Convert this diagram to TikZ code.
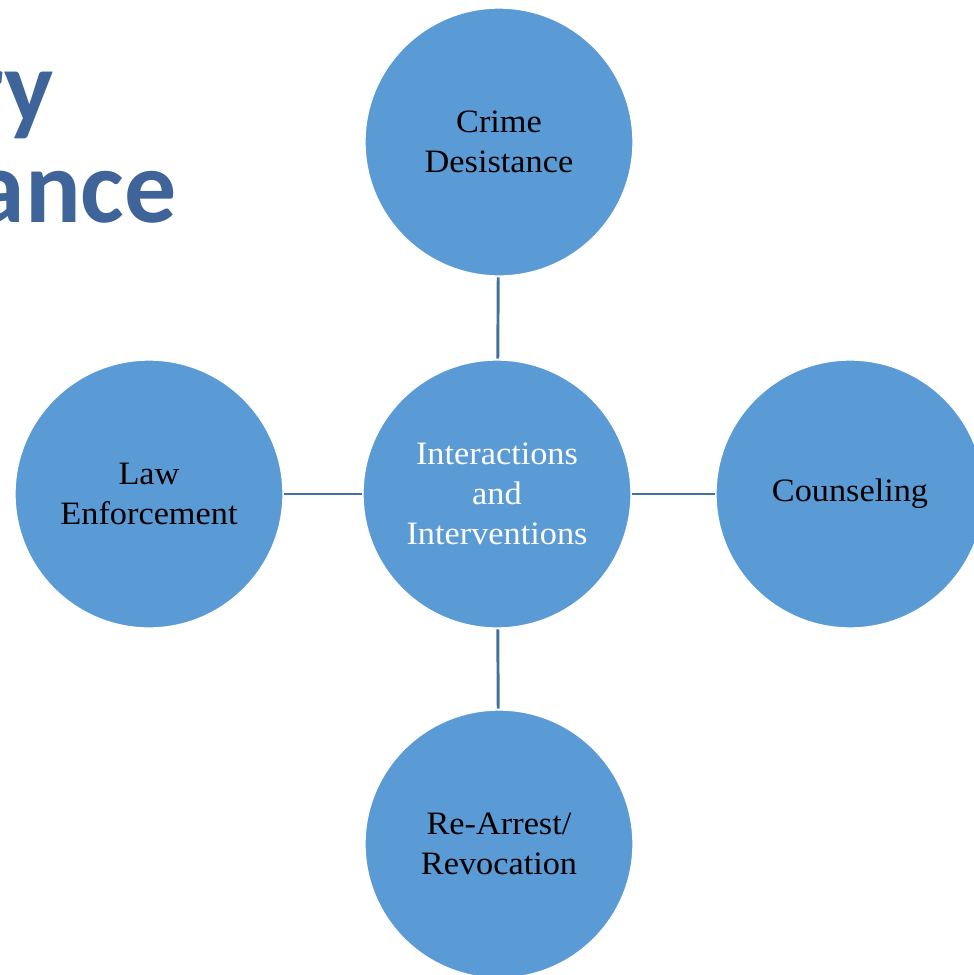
\documentclass[tikz,border=0pt]{standalone}
\usepackage{fontspec}
\setmainfont[FakeStretch=1.05]{Liberation Serif}
\newfontfamily\titlefont{Carlito}
\definecolor{bubble}{HTML}{5B9BD5}
\definecolor{linkblue}{HTML}{41719C}
\definecolor{titleblue}{HTML}{3F6499}
\begin{document}
\begin{tikzpicture}[x=0.75pt,y=-0.75pt,
  bubble/.style={circle,fill=bubble,draw=white,line width=1pt,inner sep=0pt,
    minimum size=201pt,align=center,font=\fontsize{24.5}{30}\selectfont},
  link/.style={draw=linkblue,line width=2.2pt,shorten <=0.5pt,shorten >=0.5pt},
  headline/.style={font=\titlefont\bfseries\fontsize{78}{94}\selectfont,text=titleblue,inner sep=0pt,anchor=base east}]
\useasboundingbox (0,0) rectangle (974,975);
\clip (0,0) rectangle (974,975);
% heading fragments
\node[headline] (h1) at (54,122) {ry};
\node[headline] (h2) at (177,222) {ance};
% bubbles
\node[bubble,text=white] (mid) at (497,494) {Interactions\\and\\Interventions};
\node[bubble] (top) at (499,142) {Crime\\Desistance};
\node[bubble] (left) at (149,494) {Law\\Enforcement};
\node[bubble] (right) at (850,494) {\raisebox{-1.5pt}{Counseling}};
\node[bubble] (bottom) at (499,844) {Re-Arrest/\\Revocation};
% connectors
\draw[link] (top) -- (mid);
\draw[link] (left) -- (mid);
\draw[link] (mid) -- (right);
\draw[link] (mid) -- (bottom);
\end{tikzpicture}
\end{document}
